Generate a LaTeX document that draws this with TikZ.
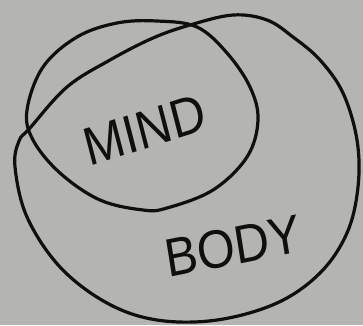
\documentclass[tikz,border=0pt]{standalone}
\usepackage{fontspec}
\setmainfont{Liberation Sans}
\definecolor{paper}{RGB}{180,180,177}
\definecolor{ink}{RGB}{15,15,15}
\begin{document}
\begin{tikzpicture}[x=1pt,y=-1pt,
  outline/.style={draw=ink,line width=3.2pt,line join=round},
  hand/.style={text=ink,font=\fontsize{54}{54}\selectfont,inner sep=0pt,xscale=0.9}]
\fill[paper] (0,0) rectangle (363,325);
\useasboundingbox (0,0) rectangle (363,325);
% MIND circle
\draw[outline] plot[smooth cycle,tension=0.6] coordinates {
 (27,110) (43,67) (77,37) (117,23) (157,21) (197,27) (227,53) (250,87)
 (258,120) (247,157) (213,190) (167,208) (143,210) (100,200) (60,173) (33,140)};
% BODY outline
\draw[outline] plot[smooth cycle,tension=0.6] coordinates {
 (30,128) (67,87) (110,60) (153,38) (190,25) (233,15) (267,20) (293,37)
 (320,60) (343,93) (357,140) (358,187) (347,233) (320,273) (277,303)
 (217,320) (157,320) (107,303) (60,267) (27,217) (15,167) (19,141)};
\node[hand,rotate=16] (mind) at (145,130) {MIND};
\node[hand,rotate=10] (body) at (233,246) {BODY};
\end{tikzpicture}
\end{document}
